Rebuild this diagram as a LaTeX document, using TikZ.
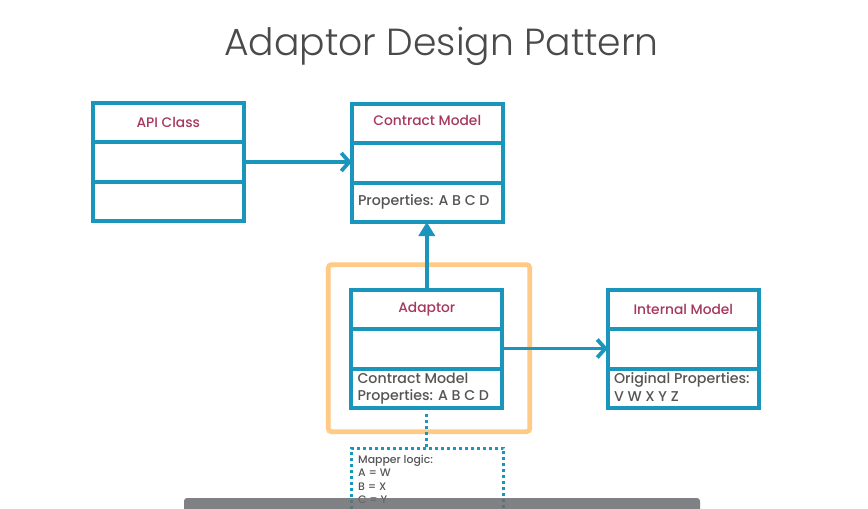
\documentclass[tikz,border=0pt]{standalone}
\usepackage{fontspec}
\setmainfont{Poppins}
\newfontfamily\titlefont{Poppins Light}
\newfontfamily\medfont{Poppins Medium}
\usetikzlibrary{arrows.meta}
\definecolor{umlblue}{HTML}{1A95BC}
\definecolor{lblred}{HTML}{A6385C}
\definecolor{txtgray}{HTML}{555555}
\definecolor{orangeframe}{HTML}{FFCA86}
\definecolor{titlegray}{HTML}{4A4A4A}
\definecolor{bargray}{HTML}{6A6D70}
\begin{document}
\begin{tikzpicture}[x=1pt,y=-1pt,
  umlbox/.style={draw=umlblue, line width=4pt, minimum width=151pt, minimum height=118pt, inner sep=0pt, outer sep=0pt},
  divider/.style={draw=umlblue, line width=4pt},
  lbl/.style={text=lblred, font=\medfont\fontsize{13.8}{15}\selectfont, inner sep=0pt},
  body/.style={text=txtgray, font=\medfont\fontsize{14.2}{17.7}\selectfont, align=left, anchor=north west, inner sep=0pt},
  conn/.style={draw=umlblue, line width=3.8pt},
  barb/.style={-{Straight Barb[length=8pt,width=18pt]}},
  tri/.style={-{Triangle[length=14pt,width=16pt]}},
  dotline/.style={draw=umlblue, line width=3pt, dash pattern=on 3pt off 3pt},
]
\clip (0,0) rectangle (868,509);
\fill[white] (0,0) rectangle (868,509);

% title
\node[font=\titlefont\fontsize{37.7}{44}\selectfont, text=titlegray, inner sep=0pt] (title) at (441.5,46) {Adaptor Design Pattern};

% orange adaptor frame
\node[draw=orangeframe, line width=4.7pt, rounded corners=3pt, minimum width=201.4pt, minimum height=167pt, inner sep=0pt] (frame) at (429,348.2) {};

% boxes
\node[umlbox] (api) at (168.3,162) {};
\node[umlbox] (contract) at (427.3,163) {};
\node[umlbox] (adaptor) at (426.8,348.5) {};
\node[umlbox] (internal) at (683.3,348.5) {};

\foreach \b in {api,contract,adaptor,internal}{
  \draw[divider] ([yshift=-39pt]\b.north west) -- ([yshift=-39pt]\b.north east);
  \draw[divider] ([yshift=-79pt]\b.north west) -- ([yshift=-79pt]\b.north east);
}

% labels
\node[lbl] (apil) at ([yshift=-19.5pt]api.north) {API Class};
\node[lbl] (contractl) at ([yshift=-16pt]contract.north) {Contract Model};
\node[lbl] (adaptorl) at ([yshift=-19.5pt]adaptor.north) {Adaptor};
\node[lbl] (internall) at ([yshift=-19.5pt]internal.north) {Internal Model};

\node[body, anchor=west] (contractp) at ([xshift=6pt,yshift=-98pt]contract.north west) {Properties: A B C D};
\node[body] (adaptorp) at ([xshift=6pt,yshift=-83pt]adaptor.north west) {Contract Model\\Properties: A B C D};
\node[body] (internalp) at ([xshift=6pt,yshift=-83pt]internal.north west) {Original Properties:\\V W X Y Z};

% connectors
\draw[conn,barb] (api.east) -- (api.east -| contract.west);
\draw[conn,tri] (adaptor.north) -- (adaptor.north |- contract.south);
\draw[conn,barb] (adaptor.east) -- (adaptor.east -| internal.west);

% mapper note
\node[draw=umlblue, line width=3pt, dash pattern=on 3pt off 3pt, minimum width=152pt, minimum height=100pt, inner sep=0pt] (mapper) at (427.8,498.4) {};
\draw[dotline, shorten <=6pt] (adaptor.south) -- (adaptor.south |- mapper.north);
\node[text=txtgray, font=\medfont\fontsize{10.9}{13.6}\selectfont, align=left, anchor=north west, inner sep=0pt] (mapperl) at (358,454.5) {Mapper logic:\\A = W\\B = X\\C = Y};

% bottom overlay bar
\fill[bargray, fill opacity=0.86, rounded corners=3pt] (184,498) rectangle (700,530);
\end{tikzpicture}
\end{document}
